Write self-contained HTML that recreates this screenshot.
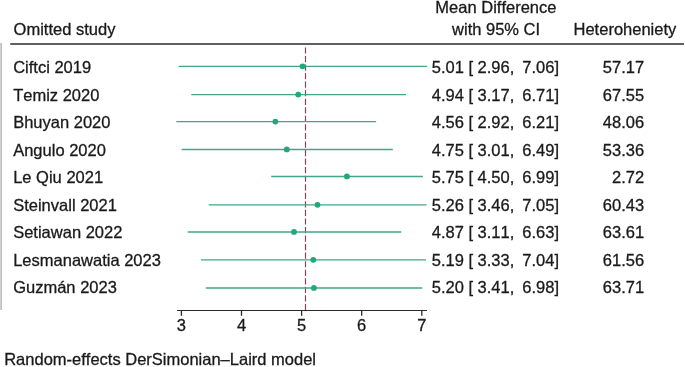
<!DOCTYPE html>
<html><head><meta charset="utf-8"><title>Forest plot</title>
<style>
html,body{margin:0;padding:0;background:#fff;}
svg{display:block;will-change:transform;}
text{font-family:"Liberation Sans",Arial,sans-serif;font-size:16.5px;fill:#1a1a1a;stroke:#1a1a1a;stroke-width:0.3px;font-kerning:none;}
</style></head><body>
<svg width="685" height="367" viewBox="0 0 685 367">
<rect width="685" height="367" fill="#ffffff"/>
<rect x="0" y="43" width="1" height="267" fill="#cfcfcf"/>
<rect x="1" y="43" width="1" height="267" fill="#c0c0c0"/>

<text x="13.6" y="35.1">Omitted study</text>
<text x="495.9" y="12.8" text-anchor="middle">Mean Difference</text>
<text x="496.1" y="35.2" text-anchor="middle">with 95% CI</text>
<text x="624.9" y="35.1" text-anchor="middle">Heteroheniety</text>
<line x1="10.2" y1="43.9" x2="684" y2="43.9" stroke="#2b2b2b" stroke-width="1.5"/>
<line x1="305.5" y1="47.4" x2="305.5" y2="310.3" stroke="#80485f" stroke-width="1.2" stroke-dasharray="6.2 2.35"/>
<line x1="178.7" y1="66.35" x2="427.1" y2="66.35" stroke="#44a58a" stroke-width="1.45"/>
<circle cx="302.5" cy="66.35" r="2.9" fill="#1fa97a"/>
<text x="13.2" y="72.9">Ciftci 2019</text>
<text x="463.9" y="72.9" text-anchor="end">5.01</text>
<text x="468.4" y="72.9" xml:space="preserve">[ 2.96,</text>
<text x="559" y="72.9" text-anchor="end">7.06]</text>
<text x="644.1" y="72.9" text-anchor="end">57.17</text>
<line x1="191.3" y1="94.60" x2="406.1" y2="94.60" stroke="#44a58a" stroke-width="1.45"/>
<circle cx="298.2" cy="94.60" r="2.9" fill="#1fa97a"/>
<text x="13.2" y="100.5">Temiz 2020</text>
<text x="463.9" y="100.5" text-anchor="end">4.94</text>
<text x="468.4" y="100.5" xml:space="preserve">[ 3.17,</text>
<text x="559" y="100.5" text-anchor="end">6.71]</text>
<text x="644.1" y="100.5" text-anchor="end">67.55</text>
<line x1="176.3" y1="121.60" x2="376.0" y2="121.60" stroke="#44a58a" stroke-width="1.45"/>
<circle cx="275.4" cy="121.60" r="2.9" fill="#1fa97a"/>
<text x="13.2" y="127.8">Bhuyan 2020</text>
<text x="463.9" y="127.8" text-anchor="end">4.56</text>
<text x="468.4" y="127.8" xml:space="preserve">[ 2.92,</text>
<text x="559" y="127.8" text-anchor="end">6.21]</text>
<text x="644.1" y="127.8" text-anchor="end">48.06</text>
<line x1="181.7" y1="149.40" x2="392.8" y2="149.40" stroke="#44a58a" stroke-width="1.45"/>
<circle cx="286.8" cy="149.40" r="2.9" fill="#1fa97a"/>
<text x="13.2" y="155.9">Angulo 2020</text>
<text x="463.9" y="155.9" text-anchor="end">4.75</text>
<text x="468.4" y="155.9" xml:space="preserve">[ 3.01,</text>
<text x="559" y="155.9" text-anchor="end">6.49]</text>
<text x="644.1" y="155.9" text-anchor="end">53.36</text>
<line x1="271.2" y1="176.40" x2="422.9" y2="176.40" stroke="#44a58a" stroke-width="1.45"/>
<circle cx="346.9" cy="176.40" r="2.9" fill="#1fa97a"/>
<text x="13.2" y="183.1">Le Qiu 2021</text>
<text x="463.9" y="183.1" text-anchor="end">5.75</text>
<text x="468.4" y="183.1" xml:space="preserve">[ 4.50,</text>
<text x="559" y="183.1" text-anchor="end">6.99]</text>
<text x="644.1" y="183.1" text-anchor="end">2.72</text>
<line x1="208.7" y1="204.85" x2="426.5" y2="204.85" stroke="#44a58a" stroke-width="1.45"/>
<circle cx="317.5" cy="204.85" r="2.9" fill="#1fa97a"/>
<text x="13.2" y="210.8">Steinvall 2021</text>
<text x="463.9" y="210.8" text-anchor="end">5.26</text>
<text x="468.4" y="210.8" xml:space="preserve">[ 3.46,</text>
<text x="559" y="210.8" text-anchor="end">7.05]</text>
<text x="644.1" y="210.8" text-anchor="end">60.43</text>
<line x1="187.7" y1="231.90" x2="401.3" y2="231.90" stroke="#44a58a" stroke-width="1.45"/>
<circle cx="294.0" cy="231.90" r="2.9" fill="#1fa97a"/>
<text x="13.2" y="237.9">Setiawan 2022</text>
<text x="463.9" y="237.9" text-anchor="end">4.87</text>
<text x="468.4" y="237.9" xml:space="preserve">[ 3.11,</text>
<text x="559" y="237.9" text-anchor="end">6.63]</text>
<text x="644.1" y="237.9" text-anchor="end">63.61</text>
<line x1="200.9" y1="259.85" x2="425.9" y2="259.85" stroke="#44a58a" stroke-width="1.45"/>
<circle cx="313.3" cy="259.85" r="2.9" fill="#1fa97a"/>
<text x="13.2" y="266.0">Lesmanawatia 2023</text>
<text x="463.9" y="266.0" text-anchor="end">5.19</text>
<text x="468.4" y="266.0" xml:space="preserve">[ 3.33,</text>
<text x="559" y="266.0" text-anchor="end">7.04]</text>
<text x="644.1" y="266.0" text-anchor="end">61.56</text>
<line x1="205.7" y1="287.95" x2="422.3" y2="287.95" stroke="#44a58a" stroke-width="1.45"/>
<circle cx="313.9" cy="287.95" r="2.9" fill="#1fa97a"/>
<text x="13.2" y="293.2">Guzmán 2023</text>
<text x="463.9" y="293.2" text-anchor="end">5.20</text>
<text x="468.4" y="293.2" xml:space="preserve">[ 3.41,</text>
<text x="559" y="293.2" text-anchor="end">6.98]</text>
<text x="644.1" y="293.2" text-anchor="end">63.71</text>
<line x1="177" y1="310.5" x2="427" y2="310.5" stroke="#2b2b2b" stroke-width="1.2"/>
<line x1="181.4" y1="310.5" x2="181.4" y2="315.8" stroke="#2b2b2b" stroke-width="1.3"/>
<text x="181.4" y="330.5" text-anchor="middle">3</text>
<line x1="241.5" y1="310.5" x2="241.5" y2="315.8" stroke="#2b2b2b" stroke-width="1.3"/>
<text x="241.5" y="330.5" text-anchor="middle">4</text>
<line x1="301.6" y1="310.5" x2="301.6" y2="315.8" stroke="#2b2b2b" stroke-width="1.3"/>
<text x="301.6" y="330.5" text-anchor="middle">5</text>
<line x1="361.7" y1="310.5" x2="361.7" y2="315.8" stroke="#2b2b2b" stroke-width="1.3"/>
<text x="361.7" y="330.5" text-anchor="middle">6</text>
<line x1="421.8" y1="310.5" x2="421.8" y2="315.8" stroke="#2b2b2b" stroke-width="1.3"/>
<text x="421.8" y="330.5" text-anchor="middle">7</text>
<text x="4.2" y="364.5">Random-effects DerSimonian–Laird model</text>
</svg></body></html>
